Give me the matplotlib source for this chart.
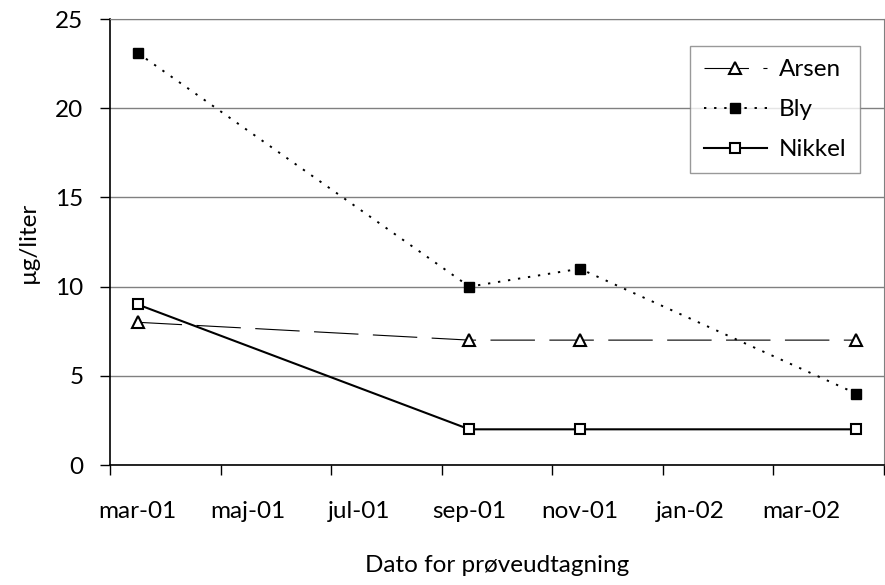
import matplotlib.pyplot as plt
from matplotlib.ticker import FixedLocator, NullFormatter

# sampling months (year, month) and measured concentrations
dates = [(2001, 3), (2001, 9), (2001, 11), (2002, 4)]
arsen = [8, 7, 7, 7]
bly = [23.1, 10, 11, 4]
nikkel = [9, 2, 2, 2]

tick_labels = ["mar-01", "maj-01", "jul-01", "sep-01", "nov-01", "jan-02", "mar-02"]
start = (2001, 3)
n_months = 14

plt.rcParams['font.family'] = ['Lato', 'DejaVu Sans']
fs = 17.5

# month slots: each month is one unit, points sit in the middle of their month
x = [(y - start[0]) * 12 + (m - start[1]) + 0.5 for y, m in dates]

fig = plt.figure(figsize=(8.85, 5.85), dpi=100)
ax = fig.add_axes([110 / 885, 120 / 585, 774 / 885, 446 / 585])

ax.plot(x, arsen, color='black', lw=0.8, dashes=(40, 13), marker='^',
        ms=9, mfc='white', mec='black', mew=1.5, label='Arsen')
ax.plot(x, bly, color='black', lw=1.4, dashes=(1.2, 4), marker='s',
        ms=7.5, mfc='black', mec='black', label='Bly')
ax.plot(x, nikkel, color='black', lw=1.5, marker='s',
        ms=6.5, mfc='white', mec='black', mew=1.5, label='Nikkel')

ax.set_xlim(0, n_months)
ax.set_ylim(0, 25)
ax.set_yticks([0, 5, 10, 15, 20, 25])
ax.yaxis.grid(True, color='#808080', lw=1)
ax.set_axisbelow(True)

# tick marks at slot borders, labels in the middle of the labelled month
ax.xaxis.set_major_locator(FixedLocator(range(0, n_months + 1, 2)))
ax.xaxis.set_major_formatter(NullFormatter())
ax.xaxis.set_minor_locator(FixedLocator([i + 0.5 for i in range(0, n_months, 2)]))
ax.set_xticklabels(tick_labels, minor=True)
ax.tick_params(axis='x', which='major', direction='out', length=7, width=1)
ax.tick_params(axis='x', which='minor', length=0, pad=26, labelsize=fs)
ax.tick_params(axis='y', direction='out', length=7, width=1, pad=12, labelsize=fs)

for side in ['top', 'right']:
    ax.spines[side].set_color('#808080')
for side in ['left', 'bottom']:
    ax.spines[side].set_linewidth(1.2)

ax.set_xlabel('Dato for prøveudtagning', fontsize=fs, labelpad=24)
ax.set_ylabel('µg/liter', fontsize=fs, labelpad=12)

leg = ax.legend(loc='upper right', bbox_to_anchor=(0.969, 0.94), fontsize=fs,
                frameon=True, fancybox=False, edgecolor='#808080',
                handlelength=2.6, handletextpad=0.5, borderpad=0.55,
                labelspacing=0.78, borderaxespad=0)
leg.get_frame().set_linewidth(1)

fig.savefig('out.png', dpi=100)
